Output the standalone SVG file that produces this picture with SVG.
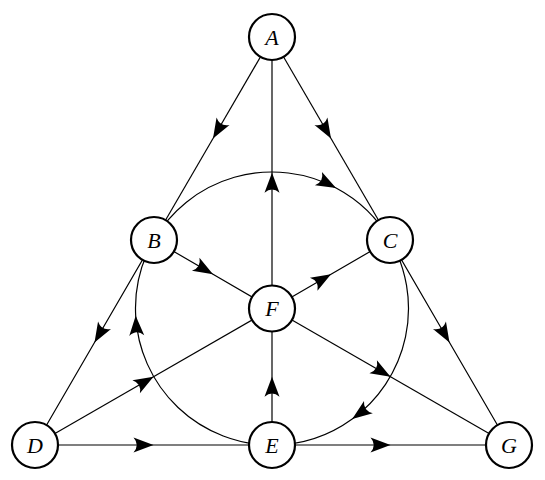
<svg xmlns="http://www.w3.org/2000/svg" width="545" height="480" viewBox="0 0 545 480">
<style>
.edge{fill:none;stroke:#000;stroke-width:1.2;marker-mid:url(#ah)}
.node circle{fill:#fff;stroke:#000;stroke-width:2.2}
.node text{font-family:"Liberation Serif",serif;font-style:italic;font-size:22px;text-anchor:middle;fill:#000}
</style>
<defs>
<marker id="ah" markerUnits="userSpaceOnUse" orient="auto" refX="0" refY="0" markerWidth="30" markerHeight="30" viewBox="-22 -10 30 20" overflow="visible">
<path d="M0,0 L-20,-7.5 Q-13.5,0 -20,7.5 Z" fill="#000"/>
</marker>
</defs>
<rect width="545" height="480" fill="#fff"/>
<g id="connectors">
<path class="edge" d="M272,37 L213,138.5 L154,240"/>
<path class="edge" d="M272,37 L331,138.5 L390,240"/>
<path class="edge" d="M272,308.5 L272,172.75 L272,37"/>
<path class="edge" d="M154,240 L213,274.25 L272,308.5"/>
<path class="edge" d="M272,308.5 L331,274.25 L390,240"/>
<path class="edge" d="M154,240 L94.5,342.5 L35,445"/>
<path class="edge" d="M390,240 L449.5,342.5 L509,445"/>
<path class="edge" d="M35,445 L153.5,376.75 L272,308.5"/>
<path class="edge" d="M272,445 L272,376.75 L272,308.5"/>
<path class="edge" d="M272,308.5 L390.5,376.75 L509,445"/>
<path class="edge" d="M35,445 L153.5,445 L272,445"/>
<path class="edge" d="M272,445 L390.5,445 L509,445"/>
<path class="edge" d="M153.79,240.25 A136.5,136.5 0 0 1 336.09,187.98 A136.5,136.5 0 0 1 390.21,240.25"/>
<path class="edge" d="M390.21,240.25 A136.5,136.5 0 0 1 352.23,418.93 A136.5,136.5 0 0 1 272,445"/>
<path class="edge" d="M272,445 A136.5,136.5 0 0 1 135.69,315.64 A136.5,136.5 0 0 1 153.79,240.25"/>
</g>
<g id="A" class="node"><circle cx="272" cy="37" r="23"/><text x="272" y="44.5">A</text></g>
<g id="B" class="node"><circle cx="154" cy="240" r="23"/><text x="154" y="247.5">B</text></g>
<g id="C" class="node"><circle cx="390" cy="240" r="23"/><text x="390" y="247.5">C</text></g>
<g id="F" class="node"><circle cx="272" cy="308.5" r="23"/><text x="272" y="316">F</text></g>
<g id="D" class="node"><circle cx="35" cy="445" r="23"/><text x="35" y="452.5">D</text></g>
<g id="E" class="node"><circle cx="272" cy="445" r="23"/><text x="272" y="452.5">E</text></g>
<g id="G" class="node"><circle cx="509" cy="445" r="23"/><text x="509" y="452.5">G</text></g>
</svg>
